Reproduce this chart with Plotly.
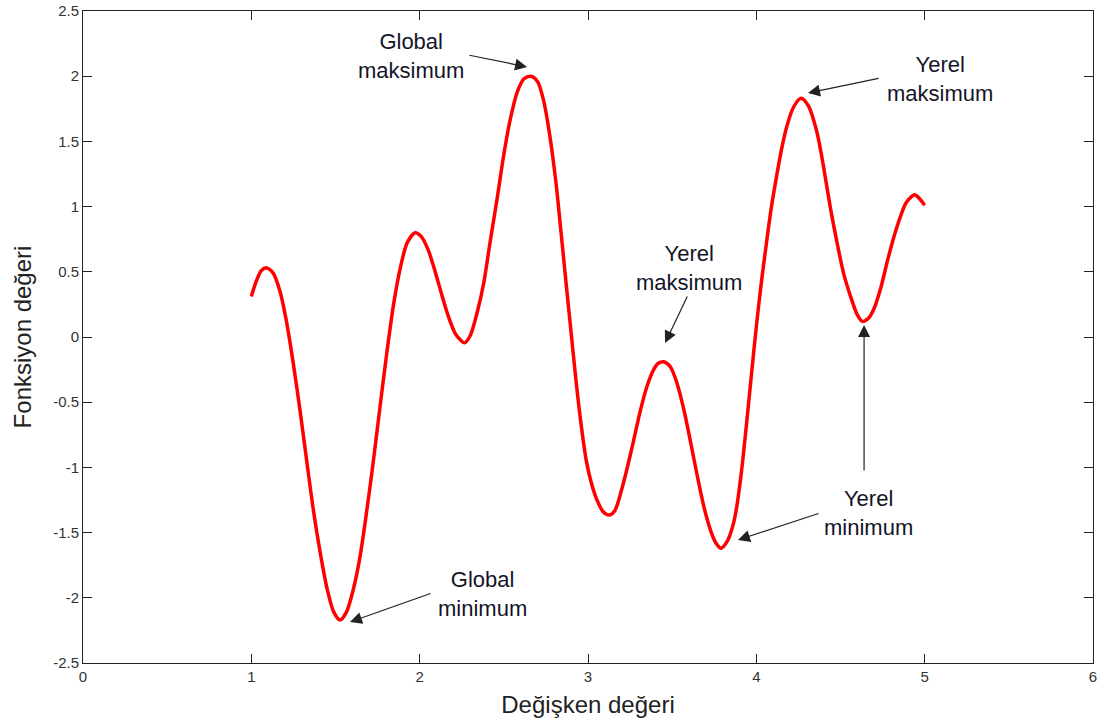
import plotly.graph_objects as go

# Curve values
x_vals = [1.00, 1.03, 1.06, 1.09, 1.13, 1.17, 1.21, 1.25, 1.29, 1.33, 1.37, 1.41, 1.45, 1.49, 1.527,
          1.565, 1.605, 1.645, 1.685, 1.725, 1.765, 1.805, 1.845, 1.885, 1.925, 1.973,
          2.01, 2.05, 2.09, 2.13, 2.17, 2.21, 2.24, 2.266,
          2.30, 2.34, 2.38, 2.42, 2.46, 2.50, 2.54, 2.58, 2.62, 2.66,
          2.70, 2.735, 2.77, 2.81, 2.84, 2.87, 2.90, 2.93, 2.96, 2.99, 3.02, 3.05, 3.09, 3.127,
          3.16, 3.20, 3.23, 3.27, 3.31, 3.35, 3.39, 3.42, 3.45,
          3.49, 3.53, 3.57, 3.61, 3.65, 3.69, 3.73, 3.76, 3.79,
          3.83, 3.86, 3.88, 3.91, 3.94, 3.97, 4.00, 4.03, 4.06, 4.09, 4.12, 4.15, 4.18, 4.22, 4.266,
          4.31, 4.36, 4.40, 4.44, 4.48, 4.52, 4.56, 4.60, 4.63,
          4.67, 4.70, 4.74, 4.78, 4.82, 4.855, 4.89, 4.94, 4.97, 5.00]
y_vals = [0.31, 0.43, 0.51, 0.53, 0.49, 0.35, 0.11, -0.21, -0.57, -0.96, -1.34, -1.66, -1.93, -2.11, -2.17,
          -2.11, -1.94, -1.69, -1.34, -0.95, -0.53, -0.12, 0.25, 0.53, 0.72, 0.80,
          0.77, 0.67, 0.51, 0.33, 0.16, 0.03, -0.02, -0.045,
          0.01, 0.18, 0.41, 0.74, 1.06, 1.40, 1.68, 1.88, 1.98, 2.00,
          1.96, 1.82, 1.57, 1.18, 0.80, 0.41, 0.03, -0.35, -0.68, -0.95, -1.12, -1.24, -1.34, -1.365,
          -1.33, -1.17, -1.02, -0.80, -0.57, -0.38, -0.25, -0.20, -0.19,
          -0.23, -0.36, -0.56, -0.81, -1.07, -1.31, -1.49, -1.58, -1.62,
          -1.56, -1.45, -1.33, -1.05, -0.69, -0.30, 0.08, 0.42, 0.72, 1.00, 1.23, 1.44, 1.61, 1.76, 1.83,
          1.77, 1.57, 1.30, 0.99, 0.72, 0.48, 0.31, 0.17, 0.12,
          0.15, 0.22, 0.38, 0.59, 0.78, 0.92, 1.03, 1.09, 1.06, 1.01]

x_ticks = [0, 1, 2, 3, 4, 5, 6]
y_ticks = [-2.5, -2, -1.5, -1, -0.5, 0, 0.5, 1, 1.5, 2, 2.5]
y_tick_text = ["-2.5", "-2", "-1.5", "-1", "-0.5", "0", "0.5", "1", "1.5", "2", "2.5"]

# Annotation labels: text, text position, arrow tail, arrow tip (data units)
labels = ["Global<br>maksimum", "Yerel<br>maksimum", "Yerel<br>maksimum",
          "Yerel<br>minimum", "Global<br>minimum"]
label_x = [1.949, 5.091, 3.600, 4.669, 2.373]
label_y = [2.155, 1.982, 0.533, -1.346, -1.971]

arrow_tail_x = [2.287, 4.735, 3.594, 4.378, 2.073, 4.640]
arrow_tail_y = [2.163, 1.986, 0.322, -1.350, -1.963, -1.035]
arrow_tip_x = [2.638, 4.307, 3.458, 3.891, 1.586, 4.640]
arrow_tip_y = [2.071, 1.871, -0.046, -1.557, -2.186, 0.092]

fig = go.Figure()
fig.add_trace(go.Scatter(x=x_vals, y=y_vals, mode="lines",
                         line=dict(color="#ff0000", width=3.5, shape="spline", smoothing=0.8),
                         showlegend=False, hoverinfo="skip"))

txt_font = dict(family="Liberation Sans, Arial, sans-serif", size=22, color="#141428")
for t, tx, ty in zip(labels, label_x, label_y):
    fig.add_annotation(x=tx, y=ty, xref="x", yref="y", text=t, showarrow=False,
                       font=txt_font, align="center", xanchor="center", yanchor="middle")

for axx, ayy, hx, hy in zip(arrow_tail_x, arrow_tail_y, arrow_tip_x, arrow_tip_y):
    fig.add_annotation(x=hx, y=hy, ax=axx, ay=ayy, xref="x", yref="y", axref="x", ayref="y",
                       text="", showarrow=True, arrowhead=2, arrowsize=2, arrowwidth=1.2,
                       arrowcolor="#222222", standoff=0, startstandoff=0)

axis_common = dict(showline=True, linecolor="#222222", linewidth=1, mirror="ticks",
                   ticks="inside", ticklen=9, tickwidth=1, tickcolor="#222222",
                   showgrid=False, zeroline=False, automargin=False, ticklabeloverflow="allow",
                   tickfont=dict(family="Liberation Sans, Arial, sans-serif", size=15, color="#333333"))

fig.update_xaxes(range=[0, 6], tickvals=x_ticks, ticktext=[str(v) for v in x_ticks],
                 title=dict(text="Değişken değeri", standoff=12,
                            font=dict(family="Liberation Sans, Arial, sans-serif", size=24, color="#222222")),
                 **axis_common)
fig.update_yaxes(range=[-2.5, 2.5], tickvals=y_ticks, ticktext=y_tick_text,
                 title=dict(text="Fonksiyon değeri", standoff=14,
                            font=dict(family="Liberation Sans, Arial, sans-serif", size=24, color="#222222")),
                 **axis_common)

fig.update_layout(width=1105, height=724, margin=dict(l=83, r=12, t=11, b=61),
                  plot_bgcolor="white", paper_bgcolor="white")

# remove the default page-body margin so the figure fills the window exactly
fig.write_html("out.html", config={"displayModeBar": False},
               post_script="document.body.style.margin='0';")
